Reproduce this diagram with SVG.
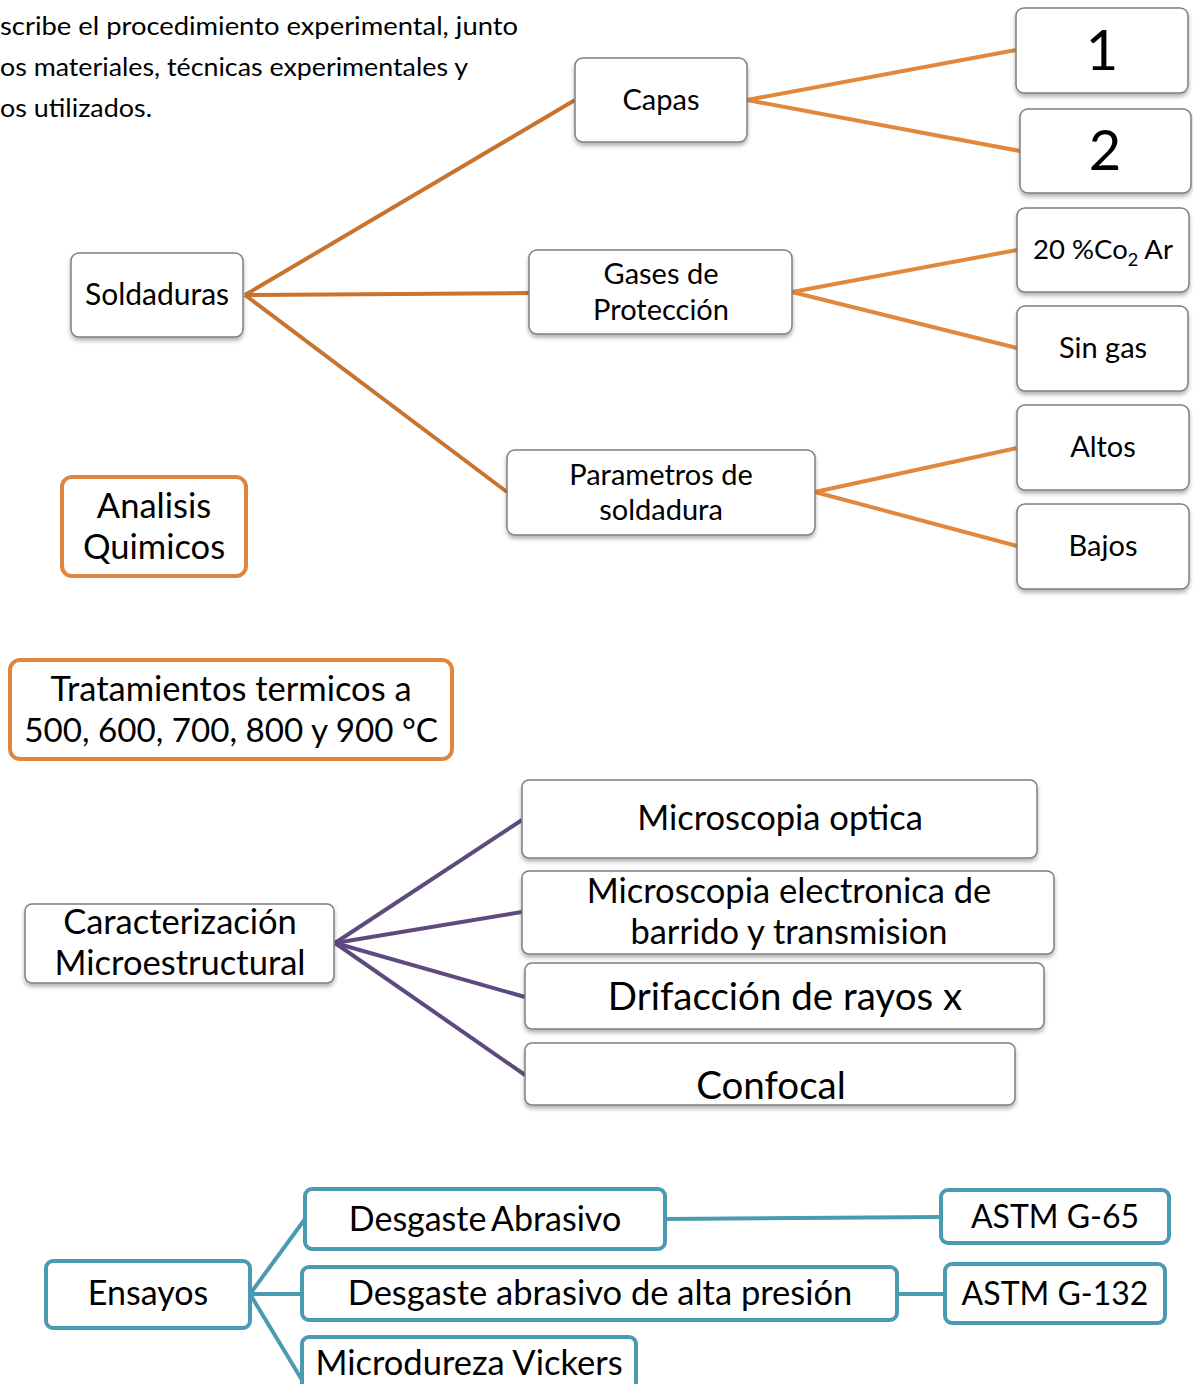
<svg xmlns="http://www.w3.org/2000/svg" width="1193" height="1384" viewBox="0 0 1193 1384">
<defs>
<filter id="sh" x="-10%" y="-10%" width="120%" height="130%">
<feDropShadow dx="0" dy="3" stdDeviation="2" flood-color="#000" flood-opacity="0.3"/>
</filter>
</defs>
<style>
text{font-family:Lato,"Open Sans","Liberation Sans",sans-serif;fill:#000;text-anchor:middle}
.s{font-size:29px}
.m{font-size:34.5px}
.g{fill:#fff;stroke:#7f7f7f;stroke-width:1.5;filter:url(#sh)}
.o{fill:#fff;stroke:#E0853D;stroke-width:4}
.t{fill:#fff;stroke:#4A9BB2;stroke-width:4}
.c1{stroke:#C8742F;stroke-width:4;fill:none}
.c2{stroke:#E2883D;stroke-width:4;fill:none}
.cp{stroke:#5F4A80;stroke-width:4;fill:none}
.ct{stroke:#4A9BB2;stroke-width:4;fill:none}
</style>
<rect width="1193" height="1384" fill="#fff"/>
<g id="intro">
<text x="0" y="35" font-size="24.5" style="text-anchor:start" textLength="518" lengthAdjust="spacingAndGlyphs">scribe el procedimiento experimental, junto</text>
<text x="0" y="76" font-size="24.5" style="text-anchor:start" textLength="468" lengthAdjust="spacingAndGlyphs">os materiales, técnicas experimentales y</text>
<text x="0" y="117" font-size="24.5" style="text-anchor:start" textLength="152" lengthAdjust="spacingAndGlyphs">os utilizados.</text>
</g>
<g id="connectors">
<line class="c1" x1="245" y1="295" x2="575" y2="100"/>
<line class="c1" x1="245" y1="295" x2="529" y2="293"/>
<line class="c1" x1="245" y1="295" x2="507" y2="492"/>
<line class="c2" x1="747" y1="100" x2="1016" y2="50"/>
<line class="c2" x1="747" y1="100" x2="1020" y2="151"/>
<line class="c2" x1="792" y1="292" x2="1017" y2="250"/>
<line class="c2" x1="792" y1="292" x2="1017" y2="348"/>
<line class="c2" x1="815" y1="492" x2="1017" y2="448"/>
<line class="c2" x1="815" y1="492" x2="1017" y2="546"/>
<line class="cp" x1="335" y1="943" x2="522" y2="820"/>
<line class="cp" x1="335" y1="943" x2="522" y2="912"/>
<line class="cp" x1="335" y1="943" x2="525" y2="997"/>
<line class="cp" x1="335" y1="943" x2="525" y2="1075"/>
<line class="ct" x1="250" y1="1294" x2="305" y2="1219"/>
<line class="ct" x1="250" y1="1294" x2="302" y2="1294"/>
<line class="ct" x1="250" y1="1294" x2="302" y2="1380"/>
<line class="ct" x1="665" y1="1219" x2="941" y2="1217"/>
<line class="ct" x1="897" y1="1294" x2="945" y2="1294"/>
</g>
<g id="soldaduras"><rect class="g" x="71" y="253" width="172" height="84" rx="8"/><text class="s" x="157" y="305" style="font-size:30px">Soldaduras</text></g>
<g id="capas"><rect class="g" x="575" y="58" width="172" height="84" rx="8"/><text class="s" x="661" y="110">Capas</text></g>
<g id="n1"><rect class="g" x="1016" y="8" width="172" height="85" rx="8"/><text x="1102" y="70" font-size="56">1</text></g>
<g id="n2"><rect class="g" x="1020" y="109" width="171" height="84" rx="8"/><text x="1105" y="170" font-size="56">2</text></g>
<g id="gases"><rect class="g" x="529" y="250" width="263" height="84" rx="8"/><text class="s" x="661" y="284">Gases de</text><text class="s" x="661" y="320">Protección</text></g>
<g id="co2"><rect class="g" x="1017" y="208" width="172" height="84" rx="8"/><text x="1103" y="259" font-size="27.5">20 %Co<tspan font-size="18" dy="7">2</tspan><tspan dy="-7"> Ar</tspan></text></g>
<g id="singas"><rect class="g" x="1017" y="306" width="171" height="85" rx="8"/><text class="s" x="1103" y="358">Sin gas</text></g>
<g id="parametros"><rect class="g" x="507" y="450" width="308" height="85" rx="8"/><text class="s" x="661" y="485">Parametros de</text><text class="s" x="661" y="520">soldadura</text></g>
<g id="altos"><rect class="g" x="1017" y="405" width="172" height="85" rx="8"/><text class="s" x="1103" y="457">Altos</text></g>
<g id="bajos"><rect class="g" x="1017" y="504" width="172" height="85" rx="8"/><text class="s" x="1103" y="556">Bajos</text></g>
<g id="analisis"><rect class="o" x="62" y="477" width="184" height="99" rx="10"/><text class="m" x="154" y="518">Analisis</text><text class="m" x="154" y="559">Quimicos</text></g>
<g id="tratamientos"><rect class="o" x="10" y="660" width="442" height="99" rx="10"/><text class="m" x="231" y="701">Tratamientos termicos a</text><text x="231" y="742" font-size="33.2">500, 600, 700, 800 y 900 °C</text></g>
<g id="caracterizacion"><rect class="g" x="25" y="904" width="309" height="79" rx="7"/><text class="m" x="180" y="934">Caracterización</text><text class="m" x="180" y="975">Microestructural</text></g>
<g id="optica"><rect class="g" x="522" y="780" width="515" height="78" rx="7"/><text class="m" x="780" y="830">Microscopia optica</text></g>
<g id="electronica"><rect class="g" x="522" y="871" width="532" height="83" rx="7"/><text class="m" x="789" y="903">Microscopia electronica de</text><text class="m" x="789" y="944">barrido y transmision</text></g>
<g id="drifaccion"><rect class="g" x="525" y="963" width="519" height="66" rx="7"/><text x="785" y="1010" font-size="38.5">Drifacción de rayos x</text></g>
<g id="confocal"><rect class="g" x="525" y="1043" width="490" height="62" rx="7"/><text x="771" y="1099" font-size="38.5">Confocal</text></g>
<g id="ensayos"><rect class="t" x="46" y="1261" width="204" height="67" rx="7"/><text x="148" y="1305" font-size="34">Ensayos</text></g>
<g id="abrasivo"><rect class="t" x="305" y="1189" width="360" height="60" rx="7"/><text x="485" y="1231" font-size="34" word-spacing="-3">Desgaste Abrasivo</text></g>
<g id="altapresion"><rect class="t" x="302" y="1267" width="595" height="53" rx="7"/><text class="m" x="600" y="1305">Desgaste abrasivo de alta presión</text></g>
<g id="vickers"><rect class="t" x="302" y="1337" width="334" height="60" rx="7"/><text class="m" x="469" y="1375">Microdureza Vickers</text></g>
<g id="g65"><rect class="t" x="941" y="1190" width="228" height="53" rx="7"/><text x="1055" y="1228" font-size="32">ASTM G-65</text></g>
<g id="g132"><rect class="t" x="945" y="1264" width="220" height="59" rx="7"/><text x="1055" y="1305" font-size="32">ASTM G-132</text></g>
</svg>
